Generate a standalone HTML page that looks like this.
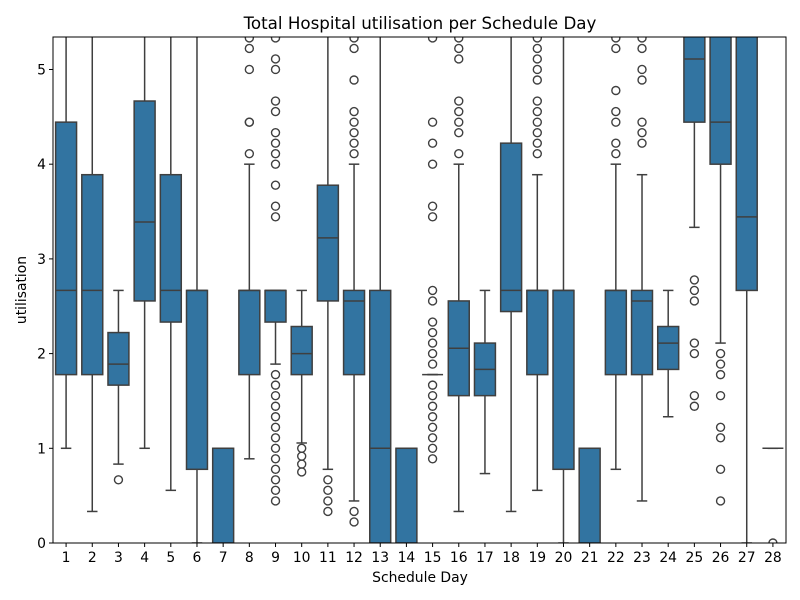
<!DOCTYPE html>
<html><head><meta charset="utf-8"><style>
body{margin:0;background:#fff}
svg{display:block;font-family:"DejaVu Sans","Liberation Sans",sans-serif}
</style></head><body>
<svg id="chart" width="800" height="600" viewBox="0 0 800 600">
<defs><clipPath id="pc"><rect x="53" y="37" width="733" height="506"/></clipPath></defs>
<rect x="0" y="0" width="800" height="600" fill="#fff"/>
<text x="420" y="29" text-anchor="middle" font-size="16.7" fill="#000">Total Hospital utilisation per Schedule Day</text>
<g id="marks" clip-path="url(#pc)"></g>
<g id="axes"></g>
<text x="420" y="582" text-anchor="middle" font-size="13.9" fill="#000">Schedule Day</text>
<text transform="translate(26,290) rotate(-90)" text-anchor="middle" font-size="13.9" fill="#000">utilisation</text>
</svg>
<script>
const categories = [1,2,3,4,5,6,7,8,9,10,11,12,13,14,15,16,17,18,19,20,21,22,23,24,25,26,27,28];
const q1s  = [1.778,1.778,1.667,2.556,2.333,0.778,0,1.778,2.333,1.778,2.556,1.778,0,0,1.778,1.556,1.556,2.444,1.778,0.778,0,1.778,1.778,1.833,4.444,4.0,2.667,1.0];
const meds = [2.667,2.667,1.889,3.389,2.667,2.667,1.0,2.667,2.667,2.0,3.222,2.556,1.0,1.0,1.778,2.056,1.833,2.667,2.667,2.667,1.0,2.667,2.556,2.111,5.111,4.444,3.444,1.0];
const q3s  = [4.444,3.889,2.222,4.667,3.889,2.667,1.0,2.667,2.667,2.286,3.778,2.667,2.667,1.0,1.778,2.556,2.111,4.222,2.667,2.667,1.0,2.667,2.667,2.286,6,6,6,1.0];
const whislo = [1.0,0.333,0.833,1.0,0.556,0,0,0.889,1.889,1.056,0.778,0.444,0,0,1.778,0.333,0.733,0.333,0.556,0,0,0.778,0.444,1.333,3.333,2.111,0,1.0];
const whishi = [6,6,2.667,6,6,6,1.0,4.0,2.667,2.667,6,4.0,6,1.0,1.778,4.0,2.667,6,3.889,6,1.0,4.0,3.889,2.667,6,6,6,1.0];
const outliers = [
 [],[],[0.667],[],[],[],[],
 [4.111,4.444,4.444,5.0,5.222,5.333],
 [5.333,5.111,5.0,4.667,4.556,4.333,4.222,4.111,4.0,3.778,3.556,3.444,1.778,1.667,1.556,1.444,1.333,1.222,1.111,1.0,0.889,0.778,0.667,0.556,0.444],
 [1.0,0.917,0.833,0.75],
 [0.667,0.556,0.444,0.333],
 [0.333,0.222,4.111,4.222,4.333,4.444,4.556,4.889,5.222,5.333],
 [],[],
 [5.333,4.444,4.222,4.0,3.556,3.444,2.667,2.556,2.333,2.222,2.111,2.0,1.889,1.667,1.556,1.444,1.333,1.222,1.111,1.0,0.889],
 [4.111,4.333,4.444,4.556,4.667,5.111,5.222,5.333],
 [],[],
 [4.111,4.222,4.333,4.444,4.556,4.667,4.889,5.0,5.111,5.222,5.333],
 [],[],
 [4.111,4.222,4.444,4.556,4.778,5.222,5.333],
 [4.222,4.333,4.444,4.889,5.0,5.222,5.333],
 [],
 [2.778,2.667,2.556,2.111,2.0,1.556,1.444],
 [2.0,1.889,1.778,1.556,1.222,1.111,0.778,0.444],
 [],
 [0]
];
const yTicks = [0,1,2,3,4,5];

const L=53,R=786,T=37,B=543,YMAX=5.343;
const step=(R-L)/categories.length;
function xs(i){return L+(i+0.5)*step;}
function ys(v){return B-(v/YMAX)*(B-T);}
const NS="http://www.w3.org/2000/svg";
function mk(tag,attrs,parent){const e=document.createElementNS(NS,tag);for(const k in attrs)e.setAttribute(k,attrs[k]);parent.appendChild(e);return e;}
const marks=document.getElementById('marks'),axes=document.getElementById('axes');
const LC="#3f3f3f",FC="#3274a1",bw=step*0.8;
categories.forEach((c,i)=>{
  const g=mk('g',{},marks);
  
  
  const cx=xs(i);
  mk('line',{x1:cx,x2:cx,y1:ys(whislo[i]),y2:ys(q1s[i]),stroke:LC,'stroke-width':1.5},g);
  mk('line',{x1:cx,x2:cx,y1:ys(q3s[i]),y2:ys(whishi[i]),stroke:LC,'stroke-width':1.5},g);
  mk('line',{x1:cx-bw/4,x2:cx+bw/4,y1:ys(whislo[i]),y2:ys(whislo[i]),stroke:LC,'stroke-width':1.5},g);
  mk('line',{x1:cx-bw/4,x2:cx+bw/4,y1:ys(whishi[i]),y2:ys(whishi[i]),stroke:LC,'stroke-width':1.5},g);
  const top=ys(q3s[i]),bot=ys(q1s[i]);
  mk('rect',{x:cx-bw/2,y:top,width:bw,height:Math.max(bot-top,0),fill:FC,stroke:LC,'stroke-width':1.5},g);
  mk('line',{x1:cx-bw/2,x2:cx+bw/2,y1:ys(meds[i]),y2:ys(meds[i]),stroke:LC,'stroke-width':1.5},g);
  outliers[i].forEach(v=>{
    const o=mk('circle',{cx:cx,cy:ys(v),r:4,fill:'none',stroke:LC,'stroke-width':1.4},g);
    
    
  });
});
mk('rect',{x:L,y:T,width:R-L,height:B-T,fill:'none',stroke:'#000','stroke-width':1},axes);
yTicks.forEach(v=>{
  const y=ys(v);
  mk('line',{x1:L-4,x2:L,y1:y,y2:y,stroke:'#000'},axes);
  const t=mk('text',{x:L-7,y:y+5,'text-anchor':'end','font-size':13.9,fill:'#000'},axes);
  t.textContent=v;
  
  
});
categories.forEach((c,i)=>{
  const x=xs(i);
  mk('line',{x1:x,x2:x,y1:B,y2:B+4,stroke:'#000'},axes);
  const t=mk('text',{x:x,y:B+19,'text-anchor':'middle','font-size':13.9,fill:'#000'},axes);
  t.textContent=c;
  
  
});
</script>
</body></html>
